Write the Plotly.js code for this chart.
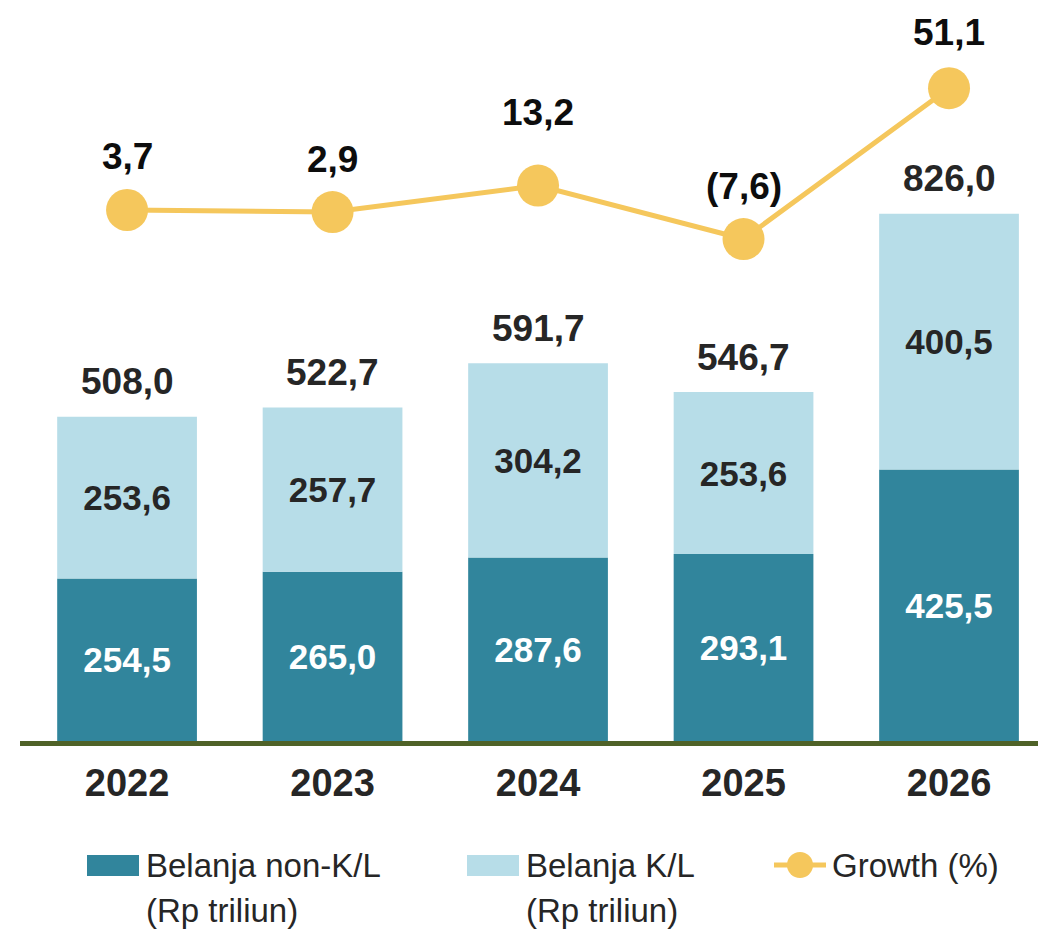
<!DOCTYPE html>
<html>
<head>
<meta charset="utf-8">
<script src="https://cdn.plot.ly/plotly-3.0.1.min.js"></script>
<style>html,body{margin:0;padding:0;background:#fff;}#chart{width:1038px;height:929px;}</style>
</head>
<body>
<div id="chart"></div>
<script>
const years = ['2022', '2023', '2024', '2025', '2026'];
const nonKL = [254.5, 265.0, 287.6, 293.1, 425.5];
const KL = [253.6, 257.7, 304.2, 253.6, 400.5];
const totals = [508.0, 522.7, 591.7, 546.7, 826.0];
const growth = [3.7, 2.9, 13.2, -7.6, 51.1];
const legendLabels = [['Belanja non-K/L', '(Rp triliun)'], ['Belanja K/L', '(Rp triliun)'], ['Growth (%)']];

// label placement (pixels above the point) — style only
const growthLabelShift = [53, 53, 73, 53, 56];

const fmt = v => { const s = Math.abs(v).toFixed(1).replace('.', ','); return v < 0 ? '(' + s + ')' : s; };

const C_DARK = '#31859c', C_LIGHT = '#b7dde8', C_YEL = '#f5c75c', C_TXT = '#262626';
const NARROW = '"Liberation Sans Narrow", "Arial Narrow", "Liberation Sans", Arial, sans-serif';
const W = 1038, H = 929, L = 20, B = 188;
const PW = W - L, PH = H - B;
const px = x => (x - L) / PW;
const py = y => (H - B - y) / PH;

const traces = [
  { type: 'bar', x: years, y: nonKL, name: legendLabels[0].join(' '), marker: { color: C_DARK },
    text: nonKL.map(fmt), textposition: 'inside', insidetextanchor: 'middle', textangle: 0, constraintext: 'none',
    textfont: { family: NARROW, size: 35, color: '#ffffff', weight: 'bold' }, hoverinfo: 'skip' },
  { type: 'bar', x: years, y: KL, name: legendLabels[1].join(' '), marker: { color: C_LIGHT },
    text: KL.map(fmt), textposition: 'inside', insidetextanchor: 'middle', textangle: 0, constraintext: 'none',
    textfont: { family: NARROW, size: 35, color: C_TXT, weight: 'bold' }, hoverinfo: 'skip' },
  { type: 'scatter', mode: 'lines+markers', x: years, y: growth, yaxis: 'y2', name: legendLabels[2][0],
    line: { color: C_YEL, width: 5 }, marker: { color: C_YEL, size: 42 }, hoverinfo: 'skip', cliponaxis: false }
];

const annotations = [];
years.forEach((yr, i) => {
  annotations.push({ x: i, y: totals[i], xref: 'x', yref: 'y', text: fmt(totals[i]), showarrow: false,
    yanchor: 'middle', yshift: 35, font: { family: NARROW, size: 37, color: C_TXT, weight: 'bold' } });
  annotations.push({ x: i, y: growth[i], xref: 'x', yref: 'y2', text: fmt(growth[i]), showarrow: false,
    yanchor: 'middle', yshift: growthLabelShift[i], font: { family: NARROW, size: 37, color: '#0d0d0d', weight: 'bold' } });
});

// legend
const legFont = { family: NARROW, size: 33, color: C_TXT };
const shapes = [
  { type: 'rect', xref: 'paper', yref: 'paper', x0: px(87), x1: px(139), y0: py(876), y1: py(855), fillcolor: C_DARK, line: { width: 0 } },
  { type: 'rect', xref: 'paper', yref: 'paper', x0: px(467), x1: px(519), y0: py(876), y1: py(855), fillcolor: C_LIGHT, line: { width: 0 } },
  { type: 'line', xref: 'paper', yref: 'paper', x0: px(774), x1: px(826), y0: py(865), y1: py(865), line: { color: C_YEL, width: 5 } },
  { type: 'circle', xref: 'paper', yref: 'paper', x0: px(787), x1: px(813), y0: py(878), y1: py(852), fillcolor: C_YEL, line: { width: 0 } }
];
[[144, 0], [524, 1], [830, 2]].forEach(([x, k]) => {
  legendLabels[k].forEach((t, j) => {
    annotations.push({ xref: 'paper', yref: 'paper', x: px(x), y: py(865 + j * 45), text: t, showarrow: false,
      xanchor: 'left', yanchor: 'middle', font: legFont });
  });
});

const layout = {
  width: W, height: H, margin: { l: L, r: 0, t: 0, b: B },
  paper_bgcolor: '#fff', plot_bgcolor: '#fff',
  barmode: 'relative', bargap: 0.32, showlegend: false,
  xaxis: { type: 'category', range: [-0.521, 4.433], showgrid: false, zeroline: false,
    showline: true, linecolor: '#4f6228', linewidth: 5, ticks: '', ticklabelstandoff: 4,
    tickfont: { family: '"Liberation Sans", Arial, sans-serif', size: 38, color: C_TXT, weight: 'bold' } },
  yaxis: { range: [0, 1161], showgrid: false, zeroline: false, showticklabels: false, showline: false, ticks: '' },
  yaxis2: { range: [-202.9, 85.4], overlaying: 'y', showgrid: false, zeroline: false, showticklabels: false, showline: false, ticks: '' },
  annotations, shapes
};

Plotly.newPlot('chart', traces, layout, { displayModeBar: false, staticPlot: true });
</script>
</body>
</html>
